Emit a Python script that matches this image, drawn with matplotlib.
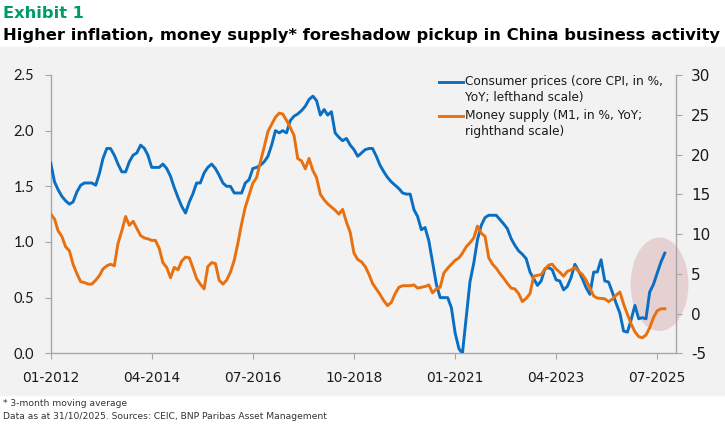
import numpy as np
import pandas as pd
import matplotlib
matplotlib.use('Agg')
import matplotlib.pyplot as plt
import matplotlib.dates as mdates
from matplotlib.patches import Ellipse, Rectangle
from matplotlib.lines import Line2D
from matplotlib.ticker import FuncFormatter

# monthly data, Jan 2012 .. Sep 2025
dates = pd.date_range('2012-01-01', periods=165, freq='MS')

core_cpi = [
    1.71, 1.54, 1.47, 1.41, 1.37, 1.34, 1.36, 1.45, 1.51, 1.53,
    1.53, 1.53, 1.51, 1.62, 1.75, 1.84, 1.84, 1.78, 1.70, 1.63,
    1.63, 1.72, 1.78, 1.80, 1.87, 1.84, 1.78, 1.67, 1.67, 1.67,
    1.70, 1.66, 1.59, 1.49, 1.40, 1.32, 1.26, 1.36, 1.43, 1.53,
    1.53, 1.62, 1.67, 1.70, 1.66, 1.60, 1.53, 1.50, 1.50, 1.44,
    1.44, 1.44, 1.53, 1.56, 1.66, 1.67, 1.69, 1.72, 1.77, 1.87,
    2.00, 1.98, 2.00, 1.98, 2.09, 2.13, 2.15, 2.18, 2.22, 2.28,
    2.31, 2.27, 2.14, 2.19, 2.14, 2.17, 1.98, 1.94, 1.91, 1.93,
    1.87, 1.83, 1.77, 1.80, 1.83, 1.84, 1.84, 1.77, 1.69, 1.63,
    1.58, 1.54, 1.51, 1.48, 1.44, 1.43, 1.43, 1.29, 1.23, 1.11,
    1.13, 1.01, 0.82, 0.62, 0.50, 0.50, 0.50, 0.41, 0.18, 0.04,
    0.00, 0.33, 0.64, 0.81, 1.02, 1.15, 1.22, 1.24, 1.24, 1.24,
    1.20, 1.16, 1.12, 1.03, 0.97, 0.92, 0.89, 0.85, 0.73, 0.67,
    0.61, 0.65, 0.76, 0.77, 0.75, 0.66, 0.65, 0.57, 0.60, 0.68,
    0.80, 0.74, 0.67, 0.59, 0.53, 0.73, 0.73, 0.84, 0.65, 0.64,
    0.55, 0.45, 0.36, 0.20, 0.19, 0.30, 0.43, 0.31, 0.32, 0.31,
    0.55, 0.62, 0.72, 0.82, 0.90,
]

m1 = [
    12.5, 11.9, 10.4, 9.7, 8.4, 7.9, 6.2, 5.0, 4.0, 3.9,
    3.7, 3.7, 4.2, 4.8, 5.6, 6.0, 6.2, 6.0, 8.8, 10.4,
    12.2, 11.1, 11.6, 10.7, 9.8, 9.5, 9.4, 9.2, 9.2, 8.2,
    6.4, 5.8, 4.5, 5.8, 5.5, 6.6, 7.1, 7.0, 5.8, 4.4,
    3.7, 3.1, 5.9, 6.4, 6.3, 4.2, 3.7, 4.2, 5.2, 6.7,
    8.8, 11.3, 13.4, 14.9, 16.4, 17.1, 19.1, 20.9, 22.9, 23.8,
    24.7, 25.2, 25.1, 24.3, 23.4, 22.4, 19.5, 19.2, 18.2, 19.5,
    18.0, 17.1, 15.0, 14.3, 13.8, 13.4, 13.0, 12.5, 13.1, 11.5,
    10.2, 7.6, 6.8, 6.5, 5.9, 4.9, 3.8, 3.1, 2.4, 1.6,
    1.0, 1.4, 2.5, 3.3, 3.5, 3.5, 3.5, 3.6, 3.2, 3.3,
    3.4, 3.6, 2.6, 3.1, 3.3, 5.1, 5.7, 6.2, 6.7, 7.0,
    7.6, 8.4, 8.9, 9.5, 11.0, 10.1, 9.7, 7.0, 6.2, 5.7,
    5.0, 4.4, 3.8, 3.2, 3.1, 2.5, 1.5, 1.9, 2.5, 4.7,
    4.8, 4.9, 5.6, 6.1, 6.2, 5.6, 5.2, 4.7, 5.3, 5.5,
    5.8, 5.3, 4.9, 4.2, 3.2, 2.2, 1.95, 1.9, 1.85, 1.5,
    1.8, 2.3, 2.7, 1.2, -0.1, -1.3, -2.3, -2.9, -3.05, -2.7,
    -1.8, -0.5, 0.35, 0.6, 0.6,
]

xtick_dates = pd.date_range('2012-01-01', periods=7, freq='27MS')
left_ticks = [0.0, 0.5, 1.0, 1.5, 2.0, 2.5]
right_ticks = [-5, 0, 5, 10, 15, 20, 25, 30]

BLUE = '#0a6fc2'
ORANGE = '#e8700f'
GREEN = '#009b64'
SPINE = '#a6a6a6'
TXT = '#1a1a1a'
COND = ['Liberation Sans Narrow', 'DejaVu Sans']

W, H = 725, 428
fig = plt.figure(figsize=(W / 100, H / 100), dpi=100)
fig.patches.append(Rectangle((0, 1 - 395 / H), 1, (395 - 47) / H,
                             transform=fig.transFigure, color='#f2f2f2', zorder=-5))

ax = fig.add_axes([50.7 / W, 1 - 353.3 / H, 625.3 / W, 278.3 / H])
ax.patch.set_visible(False)
ax2 = ax.twinx()
ax2.patch.set_visible(False)

ax.plot(dates, core_cpi, color=BLUE, lw=2.1, zorder=3, solid_joinstyle='round')
ax2.plot(dates, m1, color=ORANGE, lw=2.1, zorder=3, solid_joinstyle='round')

ax.set_xlim(dates[0], pd.Timestamp('2025-12-01'))
ax.set_ylim(0, 2.5)
ax2.set_ylim(-5, 30)

# highlight ellipse (pokes past the right axis like the original)
ell = Ellipse((mdates.date2num(pd.Timestamp('2025-07-20')), 0.62), 470, 0.84,
              facecolor='#c8828a', alpha=0.3, edgecolor='none', zorder=1, clip_on=False)
ax.add_patch(ell)

ax.set_xticks(xtick_dates)
ax.xaxis.set_major_formatter(mdates.DateFormatter('%m-%Y'))
ax.set_yticks(left_ticks)
ax.yaxis.set_major_formatter(FuncFormatter(lambda v, p: f'{v:.1f}'))
ax2.set_yticks(right_ticks)
ax2.yaxis.set_major_formatter(FuncFormatter(lambda v, p: f'{int(v)}'))

for s in ['top', 'right']:
    ax.spines[s].set_visible(False)
for s in ['top', 'left', 'bottom']:
    ax2.spines[s].set_visible(False)
for a, s in [(ax, 'left'), (ax, 'bottom'), (ax2, 'right')]:
    a.spines[s].set_color(SPINE)
    a.spines[s].set_linewidth(1)

ax.tick_params(axis='x', direction='out', length=4, color=SPINE, pad=9, labelcolor=TXT)
ax.tick_params(axis='y', direction='out', length=4, color=SPINE, pad=8, labelcolor=TXT)
ax2.tick_params(axis='y', direction='out', length=4, color=SPINE, pad=7, labelcolor=TXT)

renderer = fig.canvas.get_renderer()


def fit(t, px):
    w = t.get_window_extent(renderer).width
    t.set_fontsize(t.get_fontsize() * px / w)
    return t


# size tick fonts by measured label widths
probe = fig.text(0, 0, '01-2012', fontsize=10, family=COND)
fit(probe, 57)
xfs = probe.get_fontsize()
probe.remove()
for lab in ax.get_xticklabels():
    lab.set_fontsize(xfs)
    lab.set_family(COND)
for lab in ax.get_yticklabels():
    lab.set_fontsize(10.5)
    lab.set_family(['Lato', 'DejaVu Sans'])
for lab in ax2.get_yticklabels():
    lab.set_fontsize(11)
    lab.set_family(COND)

# titles
t1 = fig.text(3 / W, 1 - 17.5 / H, 'Exhibit 1', color=GREEN, fontweight='bold',
              fontsize=13, family=COND, va='baseline', ha='left')
fit(t1, 80)
t2 = fig.text(3 / W, 1 - 40 / H, 'Higher inflation, money supply* foreshadow pickup in China business activity',
              color='black', fontweight='bold', fontsize=14, family=COND, va='baseline', ha='left')
fit(t2, 716)

# footnotes
f1 = fig.text(3 / W, 1 - 404 / H, '* 3-month moving average', color='#333333',
              fontsize=8, family=COND, va='center', ha='left')
f2 = fig.text(3 / W, 1 - 416.5 / H, 'Data as at 31/10/2025. Sources: CEIC, BNP Paribas Asset Management',
              color='#333333', fontsize=8, family=COND, va='center', ha='left')
fit(f2, 323)
f1.set_fontsize(f2.get_fontsize())


# legend drawn by hand so the key sits on the first text line
def ay(py):
    return (353.3 - py) / 278.3


def axf(px):
    return (px - 50.7) / 625.3


leg = [
    (BLUE, 82, ['Consumer prices (core CPI, in %,', 'YoY; lefthand scale)']),
    (ORANGE, 116, ['Money supply (M1, in %, YoY;', 'righthand scale)']),
]
first = None
for color, py, lines in leg:
    ax2.add_line(Line2D([axf(439), axf(463)], [ay(py), ay(py)], transform=ax2.transAxes,
                        color=color, lw=2.1, clip_on=False))
    for i, s in enumerate(lines):
        t = ax2.text(axf(465), ay(py - 1 + i * 16), s, transform=ax2.transAxes,
                     fontsize=10, family=COND, color=TXT, va='center', ha='left')
        if first is None:
            first = fit(t, 197)
        else:
            t.set_fontsize(first.get_fontsize())

fig.savefig('out.png', dpi=100)
